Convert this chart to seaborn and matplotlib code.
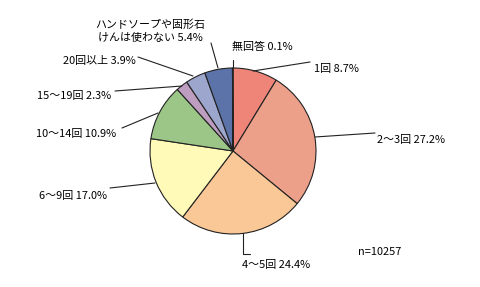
import matplotlib
matplotlib.use("Agg")
import matplotlib.pyplot as plt
import seaborn as sns

sns.set_theme(style="white")
plt.rcParams['font.family'] = ['Noto Sans CJK JP', 'DejaVu Sans']

categories = ["1回", "2～3回", "4～5回", "6～9回", "10～14回", "15～19回",
              "20回以上", "ハンドソープや固形石\nけんは使わない", "無回答"]
values = [8.7, 27.2, 24.4, 17.0, 10.9, 2.3, 3.9, 5.4, 0.1]
colors = ["#EE8578", "#ECA08A", "#F9C896", "#FFFAB8", "#9CC688", "#BD9EC0",
          "#9DA6CC", "#5B73A8", "#333333"]
n_label = "n=10257"

W, H = 480, 287
fig = plt.figure(figsize=(W / 100, H / 100), dpi=100)
ax = fig.add_axes([0, 0, 1, 1])

cx, cy, r = 233, H - 151, 83
ax.pie(values, colors=colors, startangle=90, counterclock=False,
       center=(cx, cy), radius=r, frame=True,
       wedgeprops=dict(edgecolor="#222222", linewidth=0.8))
ax.set_xlim(0, W)
ax.set_ylim(0, H)
ax.set_aspect("equal")
ax.axis("off")

def Y(y):
    return H - y

labels = [f"{c} {v:.1f}%" for c, v in zip(categories, values)]
layout = [
    (314, 69, "left", [(253, 71), (310, 62)]),
    (377, 140, "left", [(315, 137), (375, 133)]),
    (242, 265, "left", [(243, 233), (243, 254), (250, 254)]),
    (107, 196, "right", [(155, 183), (110, 188)]),
    (116, 134, "right", [(158, 113), (122, 128)]),
    (111, 96, "right", [(182, 86), (115, 91)]),
    (136, 61, "right", [(193, 76), (138, 57)]),
    (150, 31, "center", [(218, 68), (211, 43)]),
    (232, 47, "left", [(233, 68), (233, 60)]),
]
fs = 7.9
for lab, (tx, ty, ha, pts) in zip(labels, layout):
    xs = [p[0] for p in pts]
    ys = [Y(p[1]) for p in pts]
    ax.plot(xs, ys, color="#222222", lw=0.8)
    ax.text(tx, Y(ty), lab, ha=ha, va="center", fontsize=fs,
            color="black", linespacing=1.45)

ax.text(358, Y(252), n_label, ha="left", va="center", fontsize=fs, color="black")

fig.savefig("out.png", dpi=100, facecolor="white")
